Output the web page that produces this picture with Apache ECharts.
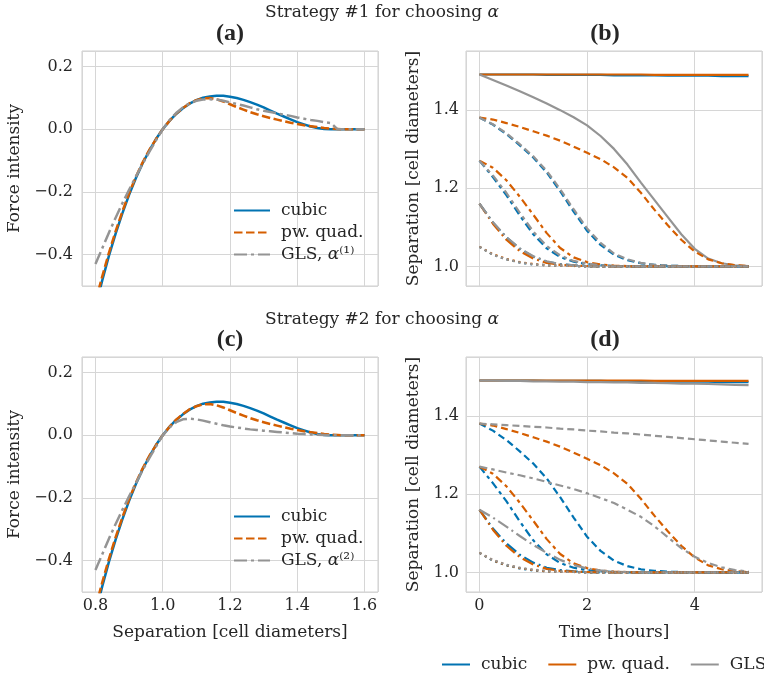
<!DOCTYPE html>
<html>
<head>
<meta charset="utf-8">
<script src="https://cdn.jsdelivr.net/npm/echarts/dist/echarts.min.js"></script>
<style>
  html, body { margin: 0; padding: 0; background: #ffffff; }
  #chart { width: 764px; height: 674px; }
</style>
</head>
<body>
<div id="chart"></div>
<script>
// ---------------- force laws (panels a, c) ----------------
const separation = [0.80, 0.82, 0.84, 0.86, 0.88, 0.90, 0.92, 0.94, 0.96, 0.98,
  1.00, 1.02, 1.04, 1.06, 1.08, 1.10, 1.12, 1.14, 1.16, 1.18,
  1.20, 1.22, 1.24, 1.26, 1.28, 1.30, 1.32, 1.34, 1.36, 1.38,
  1.40, 1.42, 1.44, 1.46, 1.48, 1.50, 1.52, 1.54, 1.56, 1.58, 1.60];

const forceCubic = [-0.568, -0.483, -0.404, -0.333, -0.268, -0.209, -0.156, -0.109, -0.068, -0.031,
  0.000, 0.027, 0.049, 0.067, 0.082, 0.093, 0.101, 0.105, 0.107, 0.107,
  0.104, 0.100, 0.094, 0.087, 0.079, 0.070, 0.060, 0.050, 0.041, 0.032,
  0.023, 0.016, 0.009, 0.004, 0.001, 0, 0, 0, 0, 0, 0];

const forcePwQuad = [-0.550, -0.470, -0.394, -0.325, -0.262, -0.204, -0.152, -0.106, -0.066, -0.031,
  0.000, 0.027, 0.050, 0.068, 0.083, 0.093, 0.099, 0.100, 0.096, 0.089,
  0.080, 0.071, 0.063, 0.055, 0.048, 0.042, 0.036, 0.031, 0.026, 0.021,
  0.017, 0.013, 0.010, 0.007, 0.004, 0.002, 0.001, 0, 0, 0, 0];

const forceGlsAlpha1 = [-0.430, -0.380, -0.330, -0.282, -0.236, -0.193, -0.151, -0.111, -0.072, -0.035,
  0.000, 0.029, 0.052, 0.070, 0.083, 0.091, 0.095, 0.096, 0.095, 0.091,
  0.086, 0.081, 0.076, 0.070, 0.064, 0.059, 0.055, 0.051, 0.047, 0.043,
  0.038, 0.034, 0.030, 0.027, 0.023, 0.020, 0, 0, 0, 0, 0];

const forceGlsAlpha2 = [-0.430, -0.380, -0.330, -0.283, -0.238, -0.195, -0.153, -0.112, -0.073, -0.036,
  0.000, 0.025, 0.042, 0.051, 0.053, 0.051, 0.047, 0.042, 0.037, 0.032,
  0.028, 0.025, 0.022, 0.019, 0.017, 0.015, 0.013, 0.011, 0.009, 0.007,
  0.005, 0.004, 0.003, 0.002, 0.001, 0, 0, 0, 0, 0, 0];

// ---------------- two-cell trajectories (panels b, d) ----------------
const timeHours = [0, 0.25, 0.5, 0.75, 1, 1.25, 1.5, 1.75, 2, 2.25, 2.5,
  2.75, 3, 3.25, 3.5, 3.75, 4, 4.25, 4.5, 4.75, 5];

const initialSeparations = [1.49, 1.38, 1.27, 1.16, 1.05];

const cubicRuns = [
  [1.490, 1.490, 1.490, 1.490, 1.490, 1.489, 1.489, 1.489, 1.489, 1.489, 1.488, 1.488, 1.488, 1.488, 1.487, 1.487, 1.487, 1.487, 1.486, 1.486, 1.486],
  [1.380, 1.362, 1.338, 1.309, 1.278, 1.240, 1.192, 1.140, 1.091, 1.055, 1.030, 1.016, 1.008, 1.004, 1.002, 1.001, 1.000, 1.000, 1.000, 1.000, 1.000],
  [1.270, 1.228, 1.182, 1.130, 1.082, 1.046, 1.024, 1.012, 1.006, 1.003, 1.001, 1.000, 1.000, 1.000, 1.000, 1.000, 1.000, 1.000, 1.000, 1.000, 1.000],
  [1.160, 1.112, 1.074, 1.045, 1.025, 1.012, 1.006, 1.003, 1.001, 1.000, 1.000, 1.000, 1.000, 1.000, 1.000, 1.000, 1.000, 1.000, 1.000, 1.000, 1.000],
  [1.050, 1.030, 1.018, 1.010, 1.005, 1.003, 1.002, 1.001, 1.000, 1.000, 1.000, 1.000, 1.000, 1.000, 1.000, 1.000, 1.000, 1.000, 1.000, 1.000, 1.000]
];

const pwQuadRuns = [
  [1.490, 1.490, 1.490, 1.490, 1.490, 1.490, 1.490, 1.490, 1.490, 1.490, 1.490, 1.490, 1.490, 1.489, 1.489, 1.489, 1.489, 1.489, 1.489, 1.489, 1.489],
  [1.380, 1.375, 1.366, 1.356, 1.345, 1.334, 1.321, 1.306, 1.290, 1.274, 1.253, 1.226, 1.188, 1.145, 1.105, 1.068, 1.038, 1.018, 1.008, 1.003, 1.001],
  [1.270, 1.252, 1.220, 1.178, 1.132, 1.085, 1.047, 1.023, 1.011, 1.005, 1.002, 1.001, 1.000, 1.000, 1.000, 1.000, 1.000, 1.000, 1.000, 1.000, 1.000],
  [1.160, 1.109, 1.068, 1.039, 1.020, 1.009, 1.004, 1.002, 1.001, 1.000, 1.000, 1.000, 1.000, 1.000, 1.000, 1.000, 1.000, 1.000, 1.000, 1.000, 1.000],
  [1.050, 1.031, 1.019, 1.011, 1.006, 1.003, 1.002, 1.001, 1.000, 1.000, 1.000, 1.000, 1.000, 1.000, 1.000, 1.000, 1.000, 1.000, 1.000, 1.000, 1.000]
];

const glsAlpha1Runs = [
  [1.490, 1.476, 1.462, 1.447, 1.432, 1.416, 1.399, 1.381, 1.360, 1.333, 1.300, 1.260, 1.214, 1.170, 1.126, 1.082, 1.045, 1.020, 1.008, 1.003, 1.001],
  [1.380, 1.363, 1.340, 1.312, 1.281, 1.244, 1.197, 1.146, 1.097, 1.060, 1.033, 1.018, 1.009, 1.004, 1.002, 1.001, 1.000, 1.000, 1.000, 1.000, 1.000],
  [1.270, 1.232, 1.188, 1.137, 1.089, 1.052, 1.028, 1.014, 1.007, 1.003, 1.001, 1.000, 1.000, 1.000, 1.000, 1.000, 1.000, 1.000, 1.000, 1.000, 1.000],
  [1.160, 1.113, 1.075, 1.046, 1.026, 1.013, 1.006, 1.003, 1.001, 1.000, 1.000, 1.000, 1.000, 1.000, 1.000, 1.000, 1.000, 1.000, 1.000, 1.000, 1.000],
  [1.050, 1.030, 1.018, 1.010, 1.005, 1.003, 1.002, 1.001, 1.000, 1.000, 1.000, 1.000, 1.000, 1.000, 1.000, 1.000, 1.000, 1.000, 1.000, 1.000, 1.000]
];

const glsAlpha2Runs = [
  [1.490, 1.490, 1.489, 1.489, 1.488, 1.488, 1.487, 1.487, 1.486, 1.486, 1.485, 1.485, 1.484, 1.484, 1.483, 1.482, 1.482, 1.481, 1.480, 1.479, 1.478],
  [1.380, 1.378, 1.376, 1.374, 1.372, 1.370, 1.367, 1.365, 1.362, 1.360, 1.357, 1.355, 1.352, 1.349, 1.346, 1.343, 1.340, 1.337, 1.334, 1.331, 1.328],
  [1.270, 1.263, 1.255, 1.248, 1.240, 1.231, 1.222, 1.213, 1.202, 1.190, 1.177, 1.160, 1.142, 1.118, 1.090, 1.062, 1.040, 1.024, 1.013, 1.006, 1.002],
  [1.160, 1.140, 1.117, 1.093, 1.070, 1.050, 1.032, 1.019, 1.010, 1.005, 1.002, 1.001, 1.000, 1.000, 1.000, 1.000, 1.000, 1.000, 1.000, 1.000, 1.000],
  [1.050, 1.032, 1.020, 1.012, 1.007, 1.004, 1.002, 1.001, 1.000, 1.000, 1.000, 1.000, 1.000, 1.000, 1.000, 1.000, 1.000, 1.000, 1.000, 1.000, 1.000]
];

// ---------------- labels ----------------
const modelNames = ['cubic', 'pw. quad.', 'GLS'];
const glsLegendNames = ['GLS, α⁽¹⁾', 'GLS, α⁽²⁾'];
const strategyTitles = ['Strategy #1 for choosing ', 'Strategy #2 for choosing '];
const panelLetters = ['(a)', '(b)', '(c)', '(d)'];
const forceAxisName = 'Force intensity';
const separationAxisName = 'Separation [cell diameters]';
const timeAxisName = 'Time [hours]';

// ---------------- styling ----------------
const SERIF = 'DejaVu Serif';
const TEXT = '#262626';
const GRIDLINE = '#d6d6d6';
const BLUE = '#0173B2', VERMILLION = '#D55E00', GREY = '#949494';
// one dash pattern per starting separation
const runDash = ['solid', [7, 4], [8, 4, 3.5, 4], [12, 4, 2, 4], [2.2, 3.8]];

const zip = (xs, ys) => xs.map((x, i) => [x, ys[i]]);
const minus = s => s.replace('-', '\u2212');

const grids = [
  { left: 82, top: 51, width: 296, height: 235 },
  { left: 466, top: 51, width: 296, height: 235 },
  { left: 82, top: 357, width: 296, height: 235 },
  { left: 466, top: 357, width: 296, height: 235 }
].map(g => Object.assign(g, {
  show: true, borderColor: '#cfcfcf', borderWidth: 1, backgroundColor: '#ffffff',
  containLabel: false, outerBoundsMode: 'none'
}));

const labelStyle = { fontFamily: SERIF, fontSize: 16, color: TEXT };
const nameStyle = { fontFamily: SERIF, fontSize: 17, color: TEXT };

function baseAxis(extra) {
  return Object.assign({
    type: 'value',
    axisLine: { show: false },
    axisTick: { show: false },
    splitLine: { show: true, lineStyle: { color: GRIDLINE, width: 1 } },
    nameMoveOverlap: false,
    nameTextStyle: nameStyle
  }, extra);
}

function forceX(idx, showLabels) {
  return baseAxis({
    gridIndex: idx, min: 0.76, max: 1.64, splitNumber: 5,
    axisLabel: Object.assign({ show: showLabels, margin: 6, showMinLabel: false, showMaxLabel: false,
      formatter: v => v.toFixed(1) }, labelStyle),
    name: showLabels ? separationAxisName : '', nameLocation: 'middle', nameGap: 32
  });
}
function forceY(idx) {
  return baseAxis({
    gridIndex: idx, min: -0.5, max: 0.25, splitNumber: 4,
    axisLabel: Object.assign({ margin: 9, showMinLabel: false, showMaxLabel: false,
      formatter: v => minus(v.toFixed(1)) }, labelStyle),
    name: forceAxisName, nameLocation: 'middle', nameGap: 59
  });
}
function timeX(idx, showLabels) {
  return baseAxis({
    gridIndex: idx, min: -0.25, max: 5.25, splitNumber: 3,
    axisLabel: Object.assign({ show: showLabels, margin: 6, showMinLabel: false, showMaxLabel: false,
      formatter: v => String(Math.round(v)) }, labelStyle),
    name: showLabels ? timeAxisName : '', nameLocation: 'middle', nameGap: 32
  });
}
function sepY(idx) {
  return baseAxis({
    gridIndex: idx, min: 0.95, max: 1.55, splitNumber: 3,
    axisLabel: Object.assign({ margin: 7, showMinLabel: false, showMaxLabel: false,
      formatter: v => v.toFixed(1) }, labelStyle),
    name: separationAxisName, nameLocation: 'middle', nameGap: 44
  });
}

const series = [];
function line(name, axis, data, color, dash, width) {
  series.push({
    type: 'line', name, xAxisIndex: axis, yAxisIndex: axis, data,
    symbol: 'none', showSymbol: false, smooth: false, clip: true, silent: true,
    lineStyle: { color, width, type: dash, cap: 'butt' },
    itemStyle: { color }
  });
}

// panels (a) and (c): force laws
[0, 1].forEach(k => {
  const axis = k === 0 ? 0 : 2;
  line(modelNames[0], axis, zip(separation, forceCubic), BLUE, 'solid', 2.5);
  line(modelNames[1], axis, zip(separation, forcePwQuad), VERMILLION, [8.5, 3.5], 2.5);
  line(glsLegendNames[k], axis, zip(separation, k === 0 ? forceGlsAlpha1 : forceGlsAlpha2), GREY, [13, 4, 3, 4], 2.5);
});

// panels (b) and (d): trajectories from each starting separation
[0, 1].forEach(k => {
  const axis = k === 0 ? 1 : 3;
  const gls = k === 0 ? glsAlpha1Runs : glsAlpha2Runs;
  initialSeparations.forEach((s0, i) => {
    line(modelNames[0], axis, zip(timeHours, cubicRuns[i]), BLUE, runDash[i], 2.2);
    line(modelNames[1], axis, zip(timeHours, pwQuadRuns[i]), VERMILLION, runDash[i], 2.2);
    line(modelNames[2], axis, zip(timeHours, gls[i]), GREY, runDash[i], 2.2);
  });
});

const rich = {
  t: { fontFamily: SERIF, fontSize: 17, color: TEXT, lineHeight: 20 },
  i: { fontFamily: SERIF, fontSize: 17, color: TEXT, fontStyle: 'italic', lineHeight: 20 },
  s: { fontFamily: SERIF, fontSize: 17, color: TEXT, lineHeight: 20 }
};
function legendText(name) {
  const m = name.match(/^GLS, α(.+)$/);
  if (m) return '{t|GLS, }{i|α}{s|' + m[1] + '}';
  return '{t|' + name + '}';
}
// legend keys show only the line sample (the marker is hidden)
const hiddenMarker = { opacity: 0, borderWidth: 0 };
function panelLegend(names, top) {
  return {
    data: names, orient: 'vertical', left: 228, top,
    itemWidth: 36, itemHeight: 14, itemGap: 5, selectedMode: false,
    itemStyle: hiddenMarker,
    formatter: legendText,
    textStyle: { fontFamily: SERIF, fontSize: 17, color: TEXT, padding: [0, 0, 0, 6], rich }
  };
}

const titleText = (x, y, text, r, font) => ({
  type: 'text', x, y, silent: true,
  style: Object.assign({ text, align: 'center', verticalAlign: 'middle', fill: TEXT, rich: r }, font)
});
const supRich = {
  t: { fontFamily: SERIF, fontSize: 17, color: TEXT },
  i: { fontFamily: SERIF, fontSize: 17, color: TEXT, fontStyle: 'italic' }
};
const letterFont = { fontFamily: 'Liberation Serif', fontSize: 24, fontWeight: 'bold' };

const option = {
  backgroundColor: '#ffffff',
  animation: false,
  grid: grids,
  xAxis: [forceX(0, false), timeX(1, false), forceX(2, true), timeX(3, true)],
  yAxis: [forceY(0), sepY(1), forceY(2), sepY(3)],
  legend: [
    panelLegend([modelNames[0], modelNames[1], glsLegendNames[0]], 197),
    panelLegend([modelNames[0], modelNames[1], glsLegendNames[1]], 503),
    {
      data: modelNames, orient: 'horizontal', left: 436, top: 651, width: 340,
      itemWidth: 28, itemHeight: 14, itemGap: 20, selectedMode: false,
      itemStyle: hiddenMarker,
      lineStyle: { type: 'solid' },
      textStyle: { fontFamily: SERIF, fontSize: 17, color: TEXT, padding: [0, 0, 0, 6] }
    }
  ],
  graphic: [
    titleText(382, 13, '{t|' + strategyTitles[0] + '}{i|α}', supRich, {}),
    titleText(382, 320, '{t|' + strategyTitles[1] + '}{i|α}', supRich, {}),
    titleText(230, 34, panelLetters[0], null, letterFont),
    titleText(605, 34, panelLetters[1], null, letterFont),
    titleText(230, 340, panelLetters[2], null, letterFont),
    titleText(605, 340, panelLetters[3], null, letterFont)
  ],
  series
};

const chart = echarts.init(document.getElementById('chart'), null, { renderer: 'canvas' });
chart.setOption(option);
</script>
</body>
</html>
